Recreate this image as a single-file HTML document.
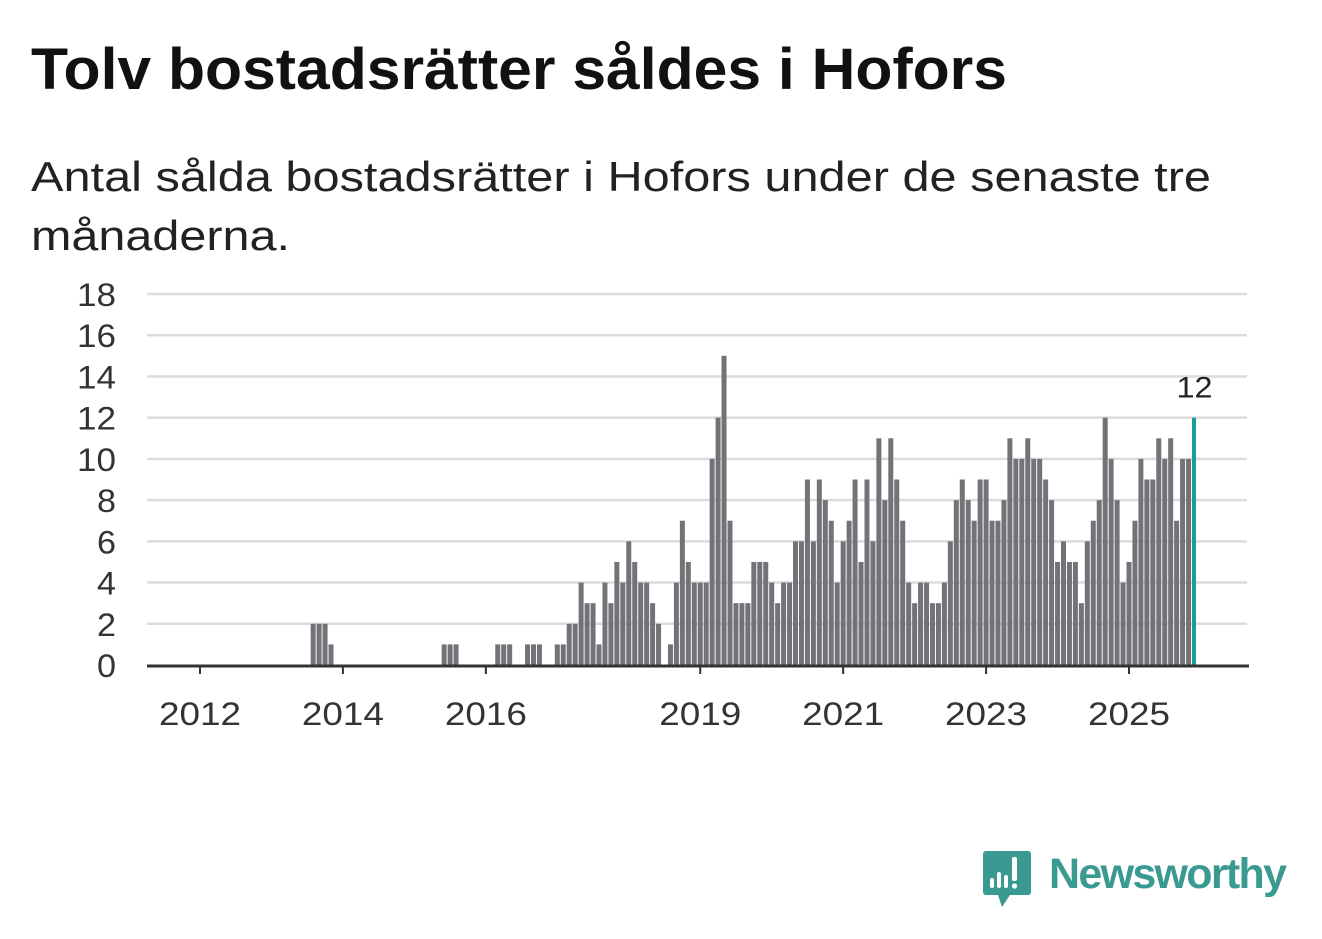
<!DOCTYPE html>
<html><head><meta charset="utf-8">
<style>
body{margin:0;background:#fff;width:1322px;height:939px;overflow:hidden;font-family:"Liberation Sans",sans-serif;}
svg{position:absolute;left:0;top:0;}
</style></head><body>
<svg width="1322" height="939">
  <text x="31" y="89" font-size="58" font-weight="bold" fill="#111" font-family="Liberation Sans, sans-serif" textLength="976" lengthAdjust="spacingAndGlyphs">Tolv bostadsrätter såldes i Hofors</text>
  <text font-size="42" fill="#222" font-family="Liberation Sans, sans-serif">
    <tspan x="31" y="191" textLength="1180" lengthAdjust="spacingAndGlyphs">Antal sålda bostadsrätter i Hofors under de senaste tre</tspan>
    <tspan x="31" y="250" textLength="259" lengthAdjust="spacingAndGlyphs">månaderna.</tspan>
  </text>
</svg>
<svg id="chart" width="1322" height="939"></svg>
<script>
const startYear = 2012;
const yTicks = [0,2,4,6,8,10,12,14,16,18];
const xTickYears = [2012,2014,2016,2019,2021,2023,2025];
const nonZero = {19:2,20:2,21:2,22:1,41:1,42:1,43:1,50:1,51:1,52:1,55:1,56:1,57:1};
const valuesFrom60 = [1,1,2,2,4,3,3,1,4,3,5,4,6,5,4,4,3,2,0,1,
4,7,5,4,4,4,10,12,15,7,3,3,3,5,5,5,4,3,4,4,
6,6,9,6,9,8,7,4,6,7,9,5,9,6,11,8,11,9,7,4,
3,4,4,3,3,4,6,8,9,8,7,9,9,7,7,8,11,10,10,11,
10,10,9,8,5,6,5,5,3,6,7,8,12,10,8,4,5,7,10,9,
9,11,10,11,7,10,10,12];
const values = [];
for(let i=0;i<60;i++) values.push(nonZero[i]||0);
for(const v of valuesFrom60) values.push(v);

const svg=document.getElementById('chart');
const NS='http://www.w3.org/2000/svg';
const y0=665, yTop=294, yMax=18;
const x2012=200, perMonth=(1129-200)/(13*12);
const yS=v=>y0-(v/yMax)*(y0-yTop);
const xS=i=>x2012+i*perMonth;
function mk(tag,attrs){const e=document.createElementNS(NS,tag);for(const k in attrs)e.setAttribute(k,attrs[k]);svg.appendChild(e);return e;}

for(const t of yTicks){
  if(t>0){const g=mk('line',{x1:147,x2:1247,y1:yS(t),y2:yS(t),stroke:'#dcdcdc','stroke-width':2.5});
  
  }
  const s=String(t);
  const tx=mk('text',{x:117-20*s.length,y:yS(t)+12,'font-size':32,fill:'#333','font-family':'Liberation Sans, sans-serif',textLength:20*s.length-1,lengthAdjust:'spacingAndGlyphs'});
  tx.textContent=s;
  
  
}
values.forEach((v,i)=>{
  if(v<=0) return;
  const last=i===values.length-1;
  const r=mk('rect',{x:xS(i)-2.5,y:yS(v),width:last?4:5,height:y0-yS(v),fill:last?'#17a096':'#737278'});
  
  
});
const li=values.length-1;
const lbl=mk('text',{x:xS(li)-18,y:yS(values[li])-20,'font-size':30,fill:'#222','font-family':'Liberation Sans, sans-serif',textLength:36,lengthAdjust:'spacingAndGlyphs'});
lbl.textContent=values[li];



const ax=mk('line',{x1:147,x2:1249,y1:y0+1,y2:y0+1,stroke:'#333','stroke-width':3});


for(const yr of xTickYears){
  const x=xS((yr-startYear)*12);
  const tk=mk('line',{x1:x,x2:x,y1:y0,y2:y0+9,stroke:'#333','stroke-width':2});
  
  
  const t=mk('text',{x:x-41,y:725,'font-size':32,fill:'#333','font-family':'Liberation Sans, sans-serif',textLength:82,lengthAdjust:'spacingAndGlyphs'});
  t.textContent=yr;
  
  
}
</script>
<svg width="1322" height="939" style="pointer-events:none">
  <path d="M986 851 h42 a3 3 0 0 1 3 3 v38 a3 3 0 0 1 -3 3 h-18 l-8 12 l-4 -12 h-12 a3 3 0 0 1 -3 -3 v-38 a3 3 0 0 1 3 -3z" fill="#3a9a92"/>
  <rect x="990" y="878" width="4" height="10" rx="2" fill="#fff"/>
  <rect x="997" y="872" width="4" height="16" rx="2" fill="#fff"/>
  <rect x="1004" y="875" width="4" height="13" rx="2" fill="#fff"/>
  <rect x="1012" y="857" width="5" height="24" rx="2" fill="#fff"/>
  <circle cx="1014.5" cy="886" r="2.6" fill="#fff"/>
  <text x="1049" y="888" font-size="43" font-weight="bold" fill="#3a9a92" font-family="Liberation Sans, sans-serif" textLength="238">Newsworthy</text>
</svg>
</body></html>
